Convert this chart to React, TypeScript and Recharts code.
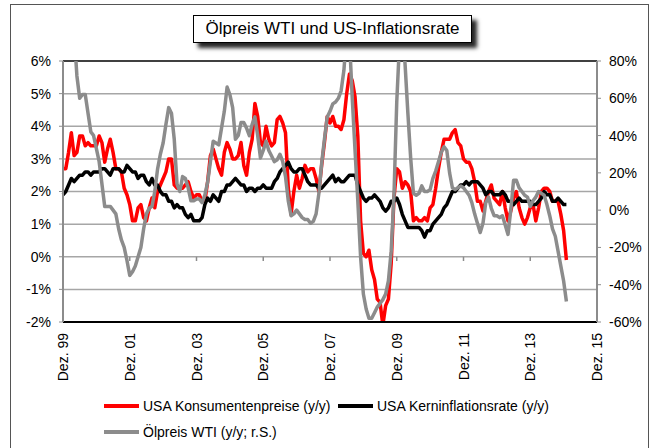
import React from 'react';
import { LineChart, Line, XAxis, YAxis, CartesianGrid, ReferenceLine } from 'recharts';

// monthly y/y changes, Dez. 1999 .. Jan. 2015 (one row per year)
const cpi = [
  2.7,
  2.7, 3.2, 3.8, 3.1, 3.2, 3.7, 3.7, 3.4, 3.5, 3.4, 3.4, 3.4,
  3.7, 3.5, 2.9, 3.3, 3.6, 3.2, 2.7, 2.7, 2.6, 2.1, 1.9, 1.6,
  1.1, 1.1, 1.5, 1.6, 1.2, 1.1, 1.5, 1.8, 1.5, 2.0, 2.2, 2.4,
  2.6, 3.0, 3.0, 2.2, 2.1, 2.1, 2.1, 2.2, 2.3, 2.0, 1.8, 1.9,
  1.9, 1.7, 1.7, 2.3, 3.1, 3.3, 3.0, 2.7, 2.5, 3.2, 3.5, 3.3,
  3.0, 3.0, 3.1, 3.5, 2.8, 2.5, 3.2, 3.6, 4.7, 4.3, 3.5, 3.4,
  4.0, 3.6, 3.4, 3.5, 4.2, 4.3, 4.1, 3.8, 2.1, 1.3, 2.0, 2.5,
  2.1, 2.4, 2.8, 2.6, 2.7, 2.7, 2.4, 2.0, 2.8, 3.5, 4.3, 4.1,
  4.3, 4.0, 4.0, 3.9, 4.2, 5.0, 5.6, 5.4, 4.9, 3.7, 1.1, 0.1,
  0.0, 0.2, -0.4, -0.7, -1.3, -1.4, -2.1, -1.5, -1.3, -0.2, 1.8, 2.7,
  2.6, 2.1, 2.3, 2.2, 2.0, 1.1, 1.2, 1.1, 1.1, 1.2, 1.1, 1.5,
  1.6, 2.1, 2.7, 3.2, 3.6, 3.6, 3.6, 3.8, 3.9, 3.5, 3.4, 3.0,
  2.9, 2.9, 2.7, 2.3, 1.7, 1.7, 1.4, 1.7, 2.0, 2.2, 1.8, 1.7,
  1.6, 2.0, 1.5, 1.1, 1.4, 1.8, 2.0, 1.5, 1.2, 1.0, 1.2, 1.5,
  1.6, 1.1, 1.5, 2.0, 2.1, 2.1, 2.0, 1.7, 1.7, 1.7, 1.3, 0.8,
  -0.1,
];

const core = [
  1.9,
  2.0, 2.2, 2.4, 2.3, 2.4, 2.5, 2.5, 2.6, 2.6, 2.5, 2.6, 2.6,
  2.6, 2.7, 2.7, 2.6, 2.5, 2.7, 2.7, 2.7, 2.6, 2.6, 2.8, 2.7,
  2.6, 2.6, 2.4, 2.5, 2.5, 2.3, 2.2, 2.4, 2.2, 2.2, 2.0, 1.9,
  1.9, 1.7, 1.7, 1.5, 1.6, 1.5, 1.5, 1.3, 1.2, 1.3, 1.1, 1.1,
  1.1, 1.2, 1.6, 1.8, 1.7, 1.9, 1.8, 1.7, 2.0, 2.0, 2.2, 2.2,
  2.3, 2.4, 2.3, 2.2, 2.2, 2.0, 2.1, 2.1, 2.0, 2.1, 2.1, 2.2,
  2.1, 2.1, 2.1, 2.3, 2.4, 2.6, 2.7, 2.8, 2.9, 2.7, 2.6, 2.6,
  2.7, 2.7, 2.5, 2.3, 2.2, 2.2, 2.2, 2.1, 2.1, 2.2, 2.3, 2.4,
  2.5, 2.3, 2.4, 2.3, 2.3, 2.4, 2.5, 2.5, 2.5, 2.2, 2.0, 1.8,
  1.7, 1.8, 1.8, 1.9, 1.8, 1.7, 1.5, 1.4, 1.5, 1.7, 1.7, 1.8,
  1.6, 1.3, 1.1, 0.9, 0.9, 0.9, 0.9, 0.9, 0.8, 0.6, 0.8, 0.8,
  1.0, 1.1, 1.2, 1.3, 1.5, 1.6, 1.8, 2.0, 2.0, 2.1, 2.2, 2.2,
  2.3, 2.2, 2.3, 2.3, 2.3, 2.2, 2.1, 1.9, 2.0, 2.0, 1.9, 1.9,
  1.9, 2.0, 1.9, 1.7, 1.7, 1.6, 1.7, 1.8, 1.7, 1.7, 1.7, 1.7,
  1.6, 1.6, 1.7, 1.8, 2.0, 1.9, 1.9, 1.7, 1.7, 1.8, 1.7, 1.6,
  1.6,
];

// WTI y/y in %, right axis (clipped at 80 / -60)
const oil = [
  130,
  118, 140, 103, 95, 72, 60, 62, 62, 52, 42, 40, 33,
  26, 14, 2, 2, 2, 0, -2, -10, -16, -20, -27, -35,
  -33, -30, -25, -20, -10, -2, 1, 2, 10, 22, 30, 36,
  46, 55, 52, 38, 14, 10, 18, 17, 12, 5, 5, 6,
  6, 4, 8, 15, 26, 37, 36, 35, 44, 53, 66, 62,
  55, 38, 40, 47, 47, 44, 40, 46, 50, 40, 28, 32,
  37, 32, 29, 26, 27, 30, 26, 18, 5, -3, -2, 0,
  -2, -4, -5, -5, -7, -6, -2, 9, 25, 38, 50, 53,
  57, 58, 60, 64, 75, 95, 92, 60, 32, 5, -25, -45,
  -53, -58, -58, -55, -52, -50, -48, -45, -38, -22, 8, 58,
  90, 100, 78, 52, 28, 9, 8, 9, 13, 10, 10, 11,
  17, 21, 26, 31, 34, 32, 20, 12, 11, 12, 13, 12,
  10, 8, 4, -2, -7, -12, -7, 4, 7, 1, -3, -3,
  -4, -3, -8, -13, 0, 16, 16, 12, 10, 8, 7, 2,
  5, 7, 10, 9, 8, 3, -3, -10, -14, -22, -30, -38,
  -49,
];

const xTickLabels = ['Dez. 99', 'Dez. 01', 'Dez. 03', 'Dez. 05', 'Dez. 07', 'Dez. 09', 'Dez. 11', 'Dez. 13', 'Dez. 15'];
const leftTicks = [-2, -1, 0, 1, 2, 3, 4, 5, 6];
const rightTicks = [-60, -40, -20, 0, 20, 40, 60, 80];

const series = [
  { key: 'cpi', name: 'USA Konsumentenpreise (y/y)', color: '#ff0000', axis: 'left' },
  { key: 'core', name: 'USA Kerninflationsrate (y/y)', color: '#000000', axis: 'left' },
  { key: 'oil', name: 'Ölpreis WTI (y/y; r.S.)', color: '#8c8c8c', axis: 'right' },
];

const data = cpi.map((v, i) => ({ m: i, cpi: v, core: core[i], oil: oil[i] }));
const xTicks = xTickLabels.map((_, i) => i * 24);

const FONT = '"Liberation Sans", Arial, sans-serif';

const XTick = ({ x, y, payload }: any) => {
  const label = xTickLabels[Math.round(payload.value / 24)];
  const ty = y + 11;
  return (
    <text
      x={x}
      y={ty}
      transform={`rotate(-90 ${x} ${ty})`}
      textAnchor="end"
      dominantBaseline="central"
      fontSize={14}
      fontFamily={FONT}
      fill="#000"
    >
      {label}
    </text>
  );
};

const LegendItem = ({ color, name, left, top }: any) => (
  <div style={{ position: 'absolute', left, top, display: 'flex', alignItems: 'center', height: 18 }}>
    <div style={{ width: 35, height: 4, background: color, marginRight: 4 }} />
    <span style={{ fontSize: 14, fontFamily: FONT, color: '#000', whiteSpace: 'nowrap' }}>{name}</span>
  </div>
);

export default function App() {
  return (
    <div style={{ position: 'absolute', left: 0, top: 0, width: 658, height: 448, background: '#fff', overflow: 'hidden' }}>
      <div style={{ position: 'absolute', left: 10, top: 4, width: 637, height: 460, border: '1px solid #555' }} />
      <LineChart
        width={658}
        height={448}
        data={data}
        margin={{ top: 61, right: 11, bottom: 66, left: 13 }}
        style={{ position: 'absolute', left: 0, top: 0 }}
      >
        <CartesianGrid yAxisId="left" vertical={false} stroke="#a6a6a6" strokeWidth={1.5} />
        <XAxis
          dataKey="m"
          type="number"
          domain={[0, 192]}
          ticks={xTicks}
          interval={0}
          tick={<XTick />}
          tickLine={false}
          tickSize={0}
          tickMargin={0}
          axisLine={{ stroke: '#000', strokeWidth: 2 }}
          height={60}
        />
        <YAxis
          yAxisId="left"
          domain={[-2, 6]}
          ticks={leftTicks}
          allowDataOverflow
          interval={0}
          tickFormatter={(v: number) => `${v}%`}
          width={50}
          tickSize={4}
          tickMargin={8}
          axisLine={{ stroke: '#8c8c8c', strokeWidth: 2 }}
          tickLine={{ stroke: '#8c8c8c' }}
          tick={{ fill: '#000', fontSize: 14, fontFamily: FONT }}
        />
        <YAxis
          yAxisId="right"
          orientation="right"
          domain={[-60, 80]}
          ticks={rightTicks}
          allowDataOverflow
          interval={0}
          tickFormatter={(v: number) => `${v}%`}
          width={50}
          tickSize={4}
          tickMargin={8}
          axisLine={{ stroke: '#8c8c8c', strokeWidth: 2 }}
          tickLine={{ stroke: '#8c8c8c' }}
          tick={{ fill: '#000', fontSize: 14, fontFamily: FONT, textAnchor: 'start' }}
        />
        <ReferenceLine yAxisId="left" y={6} stroke="#404040" strokeWidth={2} />
        {/* small category-axis tick marks where the axis crosses 0 % */}
        {xTicks.slice(1).map((t) => (
          <ReferenceLine
            key={`tk-${t}`}
            yAxisId="left"
            segment={[{ x: t, y: 0 }, { x: t, y: -0.13 }]}
            stroke="#8c8c8c"
            strokeWidth={1.5}
          />
        ))}
        {series.map((s) => (
          <Line
            key={s.key}
            yAxisId={s.axis}
            dataKey={s.key}
            name={s.name}
            type="linear"
            stroke={s.color}
            strokeWidth={3.5}
            strokeLinejoin="round"
            dot={false}
            activeDot={false}
            isAnimationActive={false}
          />
        ))}
      </LineChart>
      <div
        style={{
          position: 'absolute',
          left: 193,
          top: 15,
          width: 277,
          height: 26,
          border: '1px solid #000',
          background: '#fff',
          boxShadow: '5px 5px 4px rgba(0,0,0,0.85)',
          display: 'flex',
          alignItems: 'center',
          justifyContent: 'center',
          fontFamily: FONT,
          fontSize: 17,
          color: '#000',
        }}
      >
        Ölpreis WTI und US-Inflationsrate
      </div>
      <LegendItem color={series[0].color} name={series[0].name} left={104} top={397} />
      <LegendItem color={series[1].color} name={series[1].name} left={338} top={397} />
      <LegendItem color={series[2].color} name={series[2].name} left={104} top={423} />
    </div>
  );
}
